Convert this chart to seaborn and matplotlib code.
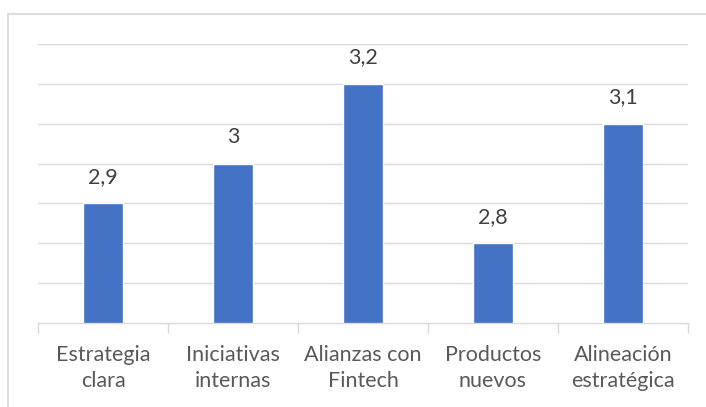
import matplotlib
matplotlib.use("Agg")
import matplotlib.pyplot as plt
import seaborn as sns
import pandas as pd
from matplotlib.patches import Rectangle

categories = ["Estrategia\nclara", "Iniciativas\ninternas", "Alianzas con\nFintech", "Productos\nnuevos", "Alineación\nestratégica"]
values = [2.9, 3.0, 3.2, 2.8, 3.1]
value_labels = ["2,9", "3", "3,2", "2,8", "3,1"]

sns.set_theme(style="white")
plt.rcParams['font.family'] = ['Lato', 'DejaVu Sans']

W, H = 706, 407
fig = plt.figure(figsize=(W/100, H/100), dpi=100)
ax = fig.add_axes([38/W, 1-323/H, 650/W, 279/H])

df = pd.DataFrame({"cat": categories, "val": values})
sns.barplot(data=df, x="cat", y="val", color="#4472C4", width=0.31, ax=ax, saturation=1)

ax.set_ylim(2.6, 3.3)
ax.set_xlim(-0.5, 4.5)
ax.set_yticks([2.7, 2.8, 2.9, 3.0, 3.1, 3.2, 3.3])
ax.yaxis.grid(True, color="#d9d9d9", lw=1)
ax.set_axisbelow(True)
ax.set_yticklabels([])
ax.tick_params(axis='y', length=0)
for s in ["top", "right", "left"]:
    ax.spines[s].set_visible(False)
ax.spines["bottom"].set_color("#d9d9d9")
ax.spines["bottom"].set_linewidth(1)
ax.set_xlabel("")
ax.set_ylabel("")
ax.set_xticks(range(len(categories)))
ax.set_xticklabels(categories, fontsize=15.5, color="#595959", linespacing=1.36)
ax.tick_params(axis='x', length=0, pad=16)
ax.set_xticks([i - 0.5 for i in range(len(categories) + 1)], minor=True)
ax.tick_params(axis='x', which='minor', length=7, color="#d9d9d9", width=1, bottom=True)

for i, (v, lab) in enumerate(zip(values, value_labels)):
    ax.annotate(lab, (i, v), xytext=(0, 12), textcoords="offset points",
                ha="center", va="bottom", fontsize=15.5, color="#404040")

fig.patches.append(Rectangle((8/W, -0.1), 1.2, 1 - 14/H + 0.1, transform=fig.transFigure,
                             fill=False, edgecolor="#d9d9d9", lw=1.3))

fig.savefig("out.png", dpi=100, facecolor="white")
